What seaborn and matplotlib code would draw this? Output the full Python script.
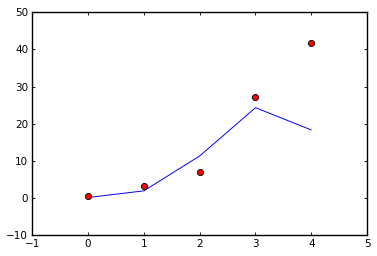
import matplotlib
matplotlib.use("Agg")
import matplotlib.pyplot as plt
import seaborn as sns
import pandas as pd

x_vals = [0, 1, 2, 3, 4]
line_y = [0.1, 1.9, 11.3, 24.3, 18.3]
point_y = [0.6, 3.3, 7.1, 27.3, 41.6]

sns.set_theme(style="white")
plt.rcParams['font.family'] = ['DejaVu Sans']

df = pd.DataFrame({"x": x_vals, "line": line_y, "pts": point_y})

fig = plt.figure(figsize=(3.77, 2.56), dpi=100)
ax = fig.add_axes([0.0857, 0.082, 0.888, 0.870])

sns.lineplot(data=df, x="x", y="line", ax=ax, color="blue", linewidth=0.7)
sns.scatterplot(data=df, x="x", y="pts", ax=ax, color="red", edgecolor="black",
                linewidth=0.6, s=20, zorder=3)

ax.set_xlim(-1, 5)
ax.set_ylim(-10, 50)
ax.set_xticks([-1, 0, 1, 2, 3, 4, 5])
ax.set_yticks([-10, 0, 10, 20, 30, 40, 50])
ax.set_xlabel("")
ax.set_ylabel("")
for s in ax.spines.values():
    s.set_visible(True)
    s.set_color("black")
    s.set_linewidth(1.0)
ax.tick_params(direction="in", length=2.5, width=0.6, colors="black",
               labelsize=7.5, top=True, right=True, bottom=True, left=True, pad=3)
ax.tick_params(labelcolor="black")

fig.savefig("out.png", dpi=100)
